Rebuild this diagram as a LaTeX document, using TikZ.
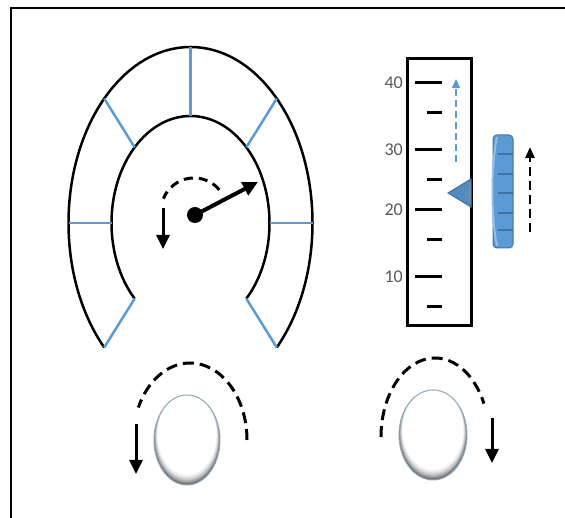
\documentclass[tikz,border=0pt]{standalone}
\usepackage{fontspec}
\newfontfamily\labelfont{Carlito}
\usetikzlibrary{arrows.meta,calc}
\definecolor{accent}{HTML}{5B9BD5}
\definecolor{accentdark}{HTML}{41719C}
\definecolor{labelgray}{HTML}{595959}
\definecolor{rimblue}{HTML}{8EA9C1}
\tikzset{
  frameline/.style={line width=2},
  rimline/.style={line width=2.5, black},
  spoke/.style={line width=2.5, accent},
  tickmark/.style={line width=3, black},
  darrow/.style={line width=3, dash pattern=on 11 off 6},
  tipbig/.style={-{Triangle[length=14pt,width=13pt]}},
  scalelabel/.style={anchor=east, text=labelgray, inner sep=0pt,
    font=\labelfont\fontsize{18}{18}\selectfont},
  knobrim/.style={draw=rimblue, line width=1}
}
% a knob: a white cap lit from above, darker towards the lower rim
\newcommand{\knobcap}[4]{% #1 x, #2 y, #3 x radius, #4 y radius
  \begin{scope}
    \clip (#1,#2) ellipse[x radius=#3, y radius=#4];
    \foreach \k/\c in {0/58,1/45,2/33,3/23,4/15,5/8,6/3,7/0}{
      \fill[black!\c] ({#1},{#2+0.8*\k}) ellipse[x radius={#3*(1-0.016*\k)}, y radius={#4*(1-0.016*\k)}];
    }
  \end{scope}
  \draw[knobrim] (#1,#2) ellipse[x radius=#3, y radius=#4];
}
\begin{document}
\begin{tikzpicture}[x=1pt,y=1pt]
\useasboundingbox (0,0) rectangle (565,518);
% panel frame
\draw[frameline] (11,-2) -- (11,510) -- (567,510);

% ---- dial gauge ----
\coordinate (gc) at (190.5,295);
\draw[rimline] ($(gc)+(-45:122 and 176)$) arc[start angle=-45, end angle=225, x radius=122, y radius=176];
\draw[rimline] ($(gc)+(-45:79 and 107)$) arc[start angle=-45, end angle=225, x radius=79, y radius=107];
\foreach \a in {-45,0,45,90,135,180,225}{
  \coordinate (in\a) at ($(gc)+(\a:79 and 107)$);
  \coordinate (out\a) at ($(gc)+(\a:122 and 176)$);
  \draw[spoke] (in\a) -- (out\a);
}
% needle
\coordinate (hub) at (195,303);
\coordinate (needletip) at (258,336);
\draw[line width=4, -{Triangle[length=15pt,width=14pt]}] (hub) -- (needletip);
\fill (hub) circle[radius=8];
% turning hint around the hub
\coordinate (hc) at (194,307);
\draw[darrow, dash pattern=on 9 off 6] ($(hc)+(40:33)$) arc[start angle=40, end angle=158, radius=33];
\coordinate (ha) at (163,310);
\coordinate (hb) at (163,269);
\draw[line width=3, tipbig] (ha) -- (hb);

% ---- linear scale ----
\draw[line width=3] (407,192) rectangle (471,459);
\foreach \y/\v in {435/40,368/30,308/20,241/10}{
  \draw[tickmark] (415,\y) -- (442,\y);
  \node[scalelabel] (lab\v) at (403,\y) {\v};
}
\foreach \y in {405,338,278,211}{
  \draw[tickmark] (427,\y) -- (442,\y);
}
% rising level hint
\coordinate (ba) at (456,356);
\coordinate (bb) at (456,439);
\draw[accent, line width=2.2, dash pattern=on 7 off 4, -{Triangle[length=9pt,width=8pt]}] (ba) -- (bb);
% pointer
\coordinate (pt) at (448,325);
\coordinate (pu) at (471,339);
\coordinate (pd) at (471,311);
\filldraw[fill=accent!90!black, draw=accentdark, line width=1] (pt) -- (pu) -- (pd) -- cycle;
\fill[accentdark!80] (465,324) -- (471,335) -- (471,314) -- cycle;

% thumb wheel
\filldraw[fill=accent, draw=accentdark, line width=1, rounded corners=4] (493,270) rectangle (513,383);
\fill[accent!65!white] (498,272) .. controls (492,300) and (492,353) .. (498,381) -- (496,381) .. controls (490,353) and (490,300) .. (496,272) -- cycle;
\foreach \y in {364,344,325,305,288}{
  \draw[accentdark, line width=1.2] (498,\y) -- (513,\y);
}
\coordinate (wa) at (530,286);
\coordinate (wb) at (530,371);
\draw[line width=2.5, dash pattern=on 9 off 5, -{Triangle[length=11pt,width=9pt]}] (wa) -- (wb);

% ---- knobs ----
\knobcap{187}{78}{33}{45}
\draw[darrow] ($(190,78)+(0:57 and 77)$) arc[start angle=0, end angle=155, x radius=57, y radius=77];
\coordinate (la) at (136,94);
\coordinate (lb) at (136,44);
\draw[line width=3, tipbig] (la) -- (lb);

\knobcap{433}{83}{34}{45}
\draw[darrow] ($(435,81)+(180:54 and 79)$) arc[start angle=180, end angle=25, x radius=54, y radius=79];
\coordinate (ra) at (492,100);
\coordinate (rb) at (492,55);
\draw[line width=3, tipbig] (ra) -- (rb);
\end{tikzpicture}
\end{document}
